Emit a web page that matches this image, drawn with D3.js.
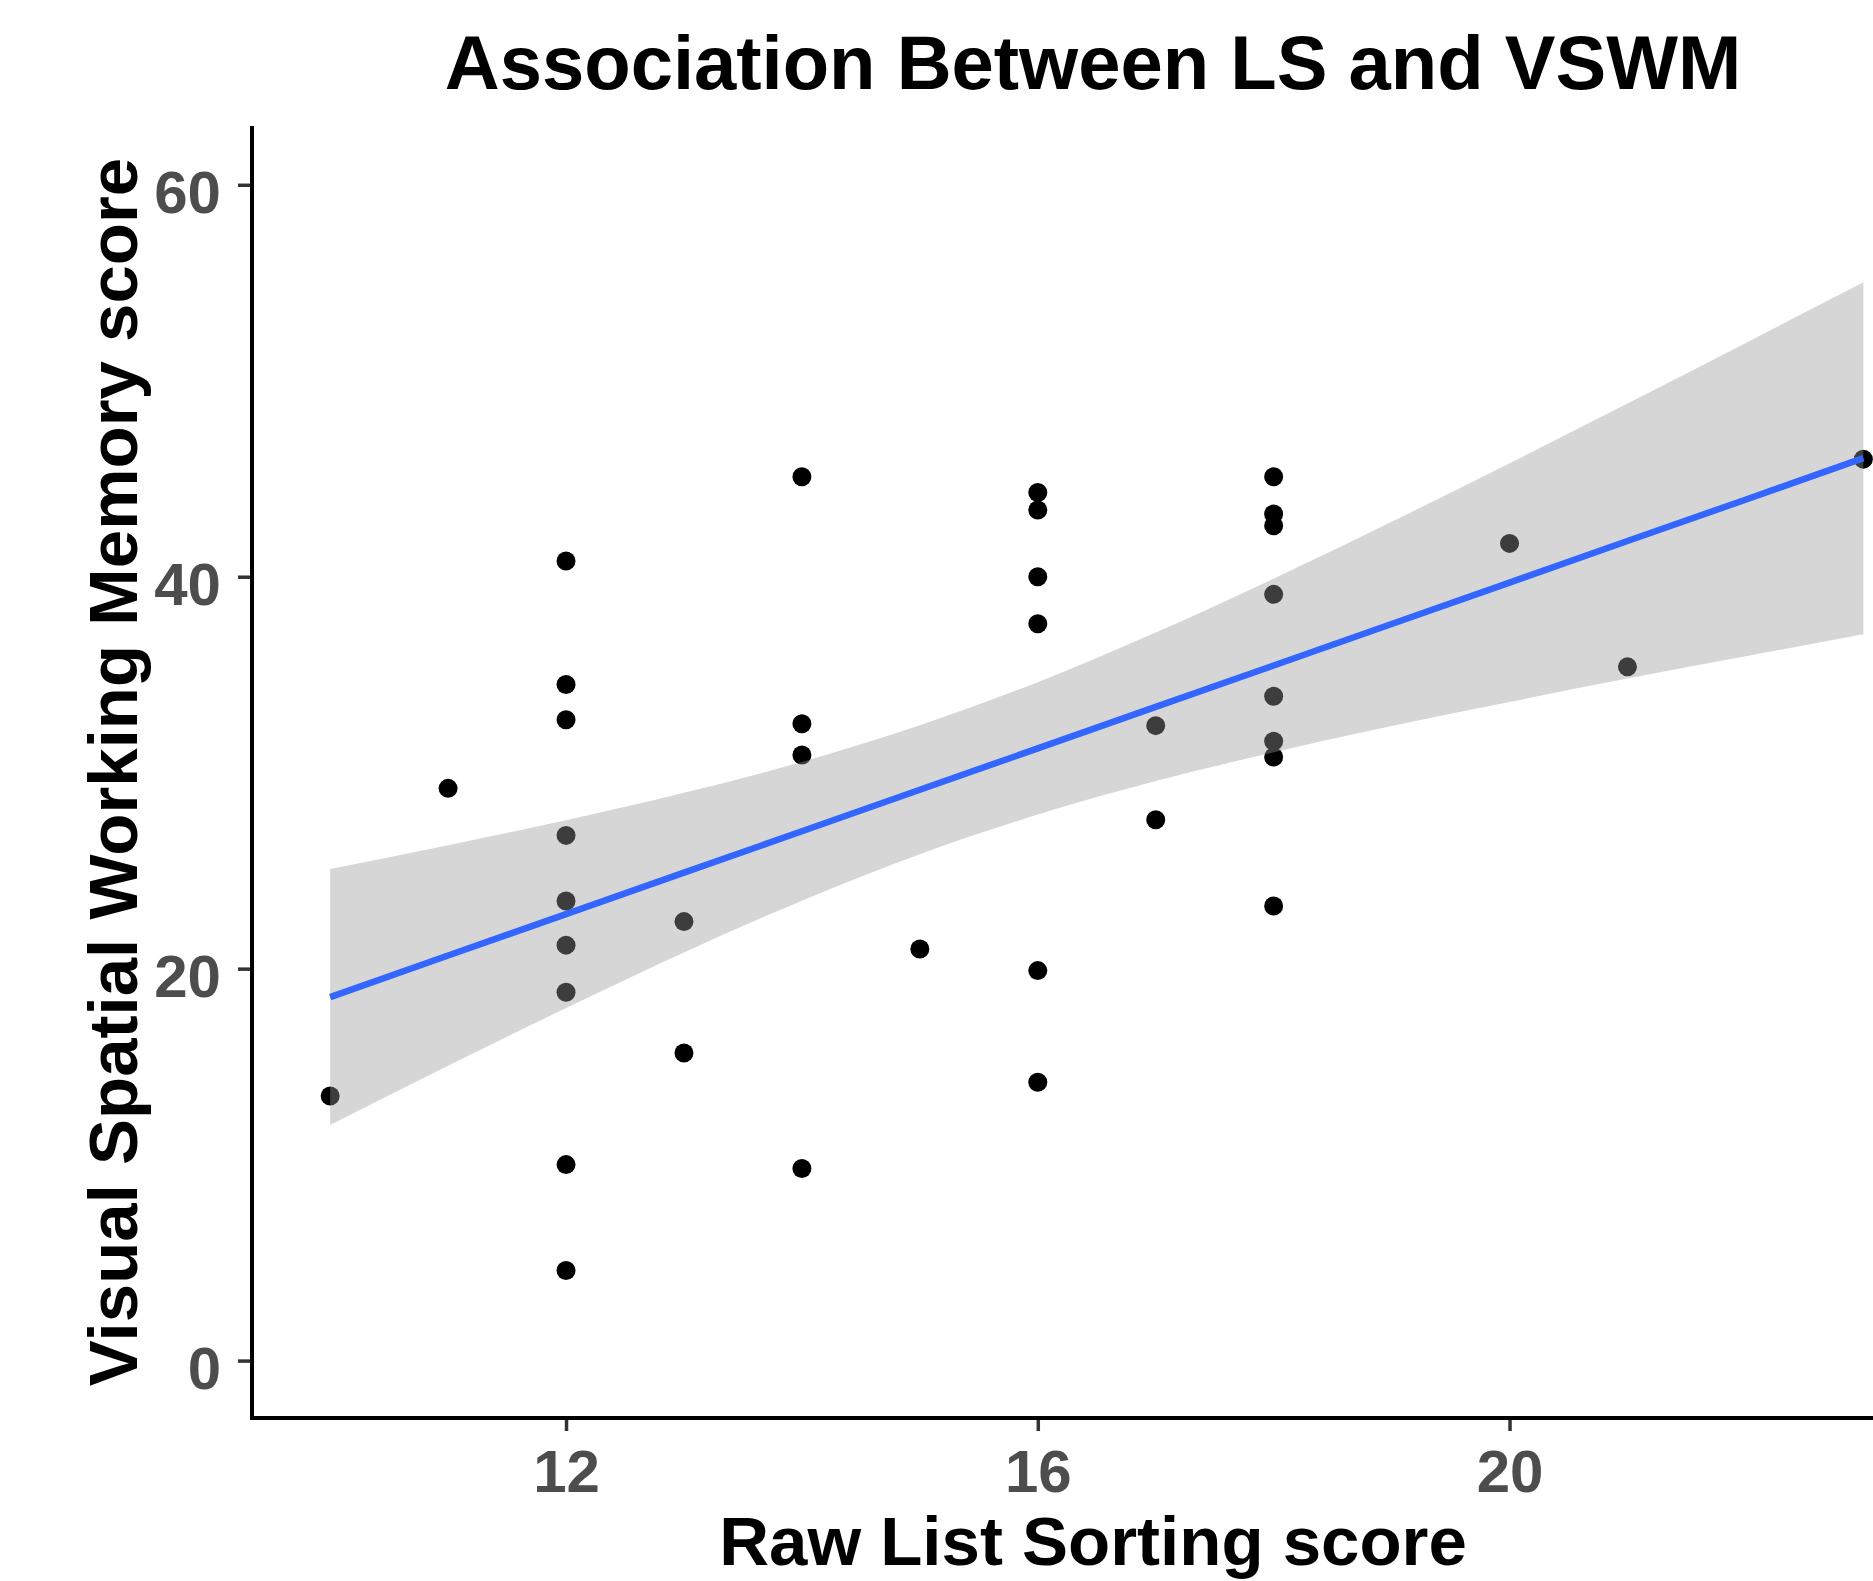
<!DOCTYPE html>
<html>
<head>
<meta charset="utf-8">
<script src="https://cdn.jsdelivr.net/npm/d3@7"></script>
<style>
  html, body { margin: 0; padding: 0; background: #ffffff; }
  svg { display: block; }
  text { font-family: "Liberation Sans", Arial, sans-serif; font-weight: bold; }
</style>
</head>
<body>
<script>
// ---------------- data ----------------
const pointX = [10, 11,
  12, 12, 12, 12, 12, 12, 12, 12, 12,
  13, 13,
  14, 14, 14, 14,
  15,
  16, 16, 16, 16, 16, 16,
  17, 17,
  18, 18, 18, 18, 18, 18, 18, 18,
  20, 21, 23];
const pointY = [13.5, 29.2,
  40.8, 34.5, 32.7, 26.8, 23.45, 21.2, 18.8, 10.0, 4.6,
  22.4, 15.7,
  45.1, 32.5, 30.9, 9.8,
  21.0,
  44.3, 43.4, 40.0, 37.6, 19.9, 14.2,
  32.4, 27.6,
  45.1, 43.2, 42.6, 39.1, 33.9, 31.6, 30.8, 23.2,
  41.7, 35.4, 46.0];

// fitted line and confidence band
const smoothX     = [10, 11, 12, 13, 14, 15, 16, 17, 18, 19, 20, 21, 22, 23];
const smoothFit   = [18.55, 20.67, 22.78, 24.90, 27.01, 29.13, 31.24, 33.36, 35.47, 37.59, 39.70, 41.82, 43.93, 46.05];
const smoothLower = [12.02, 15.04, 17.99, 20.83, 23.47, 25.84, 27.86, 29.57, 31.04, 32.38, 33.61, 34.80, 35.94, 37.07];
const smoothUpper = [25.08, 26.30, 27.57, 28.97, 30.55, 32.42, 34.62, 37.15, 39.90, 42.80, 45.79, 48.84, 51.92, 55.03];

const xTicks = [12, 16, 20];
const yTicks = [0, 20, 40, 60];

const titleText = "Association Between LS and VSWM";
const xTitle = "Raw List Sorting score";
const yTitle = "Visual Spatial Working Memory score";

// ---------------- layout ----------------
const W = 1873, H = 1581;
const panel = { left: 252, top: 126, bottom: 1418 };

const x = d3.scaleLinear().domain([9.35, 23.65]).range([253.5, 1940]);
const y = d3.scaleLinear().domain([-2.93, 63.0]).range([panel.bottom, panel.top]);

const svg = d3.select("body").append("svg")
  .attr("width", W).attr("height", H)
  .attr("viewBox", `0 0 ${W} ${H}`);

svg.append("rect").attr("width", W).attr("height", H).attr("fill", "#ffffff");

const plot = svg.append("g");

// points (drawn first; ribbon goes over them like ggplot)
plot.selectAll("circle.pt")
  .data(pointX.map((d, i) => ({ x: d, y: pointY[i] })))
  .join("circle")
  .attr("class", "pt")
  .attr("cx", d => x(d.x))
  .attr("cy", d => y(d.y))
  .attr("r", 9.5)
  .attr("fill", "#000000");

const band = smoothX.map((d, i) => ({ x: d, lo: smoothLower[i], hi: smoothUpper[i], fit: smoothFit[i] }));

plot.append("path")
  .datum(band)
  .attr("d", d3.area()
    .x(d => x(d.x))
    .y0(d => y(d.lo))
    .y1(d => y(d.hi))
    .curve(d3.curveMonotoneX))
  .attr("fill", "#999999")
  .attr("fill-opacity", 0.4)
  .attr("stroke", "none");

plot.append("path")
  .datum(band)
  .attr("d", d3.line()
    .x(d => x(d.x))
    .y(d => y(d.fit)))
  .attr("fill", "none")
  .attr("stroke", "#3366FF")
  .attr("stroke-width", 6.5);

// ---------------- axes ----------------
const yAxis = d3.axisLeft(y).tickValues(yTicks).tickSize(14).tickPadding(12);
const gy = svg.append("g").attr("transform", `translate(${panel.left},0)`).call(yAxis);
gy.select(".domain").remove();
gy.selectAll(".tick line").attr("stroke", "#333333").attr("stroke-width", 3.5);
gy.selectAll(".tick text")
  .attr("font-size", 60)
  .attr("fill", "#4D4D4D")
  .attr("x", -31)
  .attr("dy", null)
  .attr("y", 27.5)
  .attr("text-anchor", "end");

const xAxis = d3.axisBottom(x).tickValues(xTicks).tickSize(13).tickPadding(12);
const gx = svg.append("g").attr("transform", `translate(0,${panel.bottom})`).call(xAxis);
gx.select(".domain").remove();
gx.selectAll(".tick line").attr("stroke", "#333333").attr("stroke-width", 3.5);
gx.selectAll(".tick text")
  .attr("font-size", 60)
  .attr("fill", "#4D4D4D")
  .attr("dy", null)
  .attr("y", 74)
  .attr("text-anchor", "middle");

// axis lines
svg.append("line")
  .attr("x1", panel.left).attr("x2", panel.left)
  .attr("y1", panel.top).attr("y2", panel.bottom + 2)
  .attr("stroke", "#000000").attr("stroke-width", 4);
svg.append("line")
  .attr("x1", panel.left - 2).attr("x2", W)
  .attr("y1", panel.bottom).attr("y2", panel.bottom)
  .attr("stroke", "#000000").attr("stroke-width", 4);

// ---------------- titles ----------------
const cx = 1093;
svg.append("text")
  .attr("x", cx).attr("y", 89)
  .attr("text-anchor", "middle")
  .attr("font-size", 76)
  .attr("fill", "#000000")
  .text(titleText);

svg.append("text")
  .attr("x", cx).attr("y", 1565)
  .attr("text-anchor", "middle")
  .attr("font-size", 69)
  .attr("fill", "#000000")
  .text(xTitle);

svg.append("text")
  .attr("transform", `translate(137,${(panel.top + panel.bottom) / 2}) rotate(-90)`)
  .attr("text-anchor", "middle")
  .attr("font-size", 69)
  .attr("fill", "#000000")
  .text(yTitle);
</script>
</body>
</html>
